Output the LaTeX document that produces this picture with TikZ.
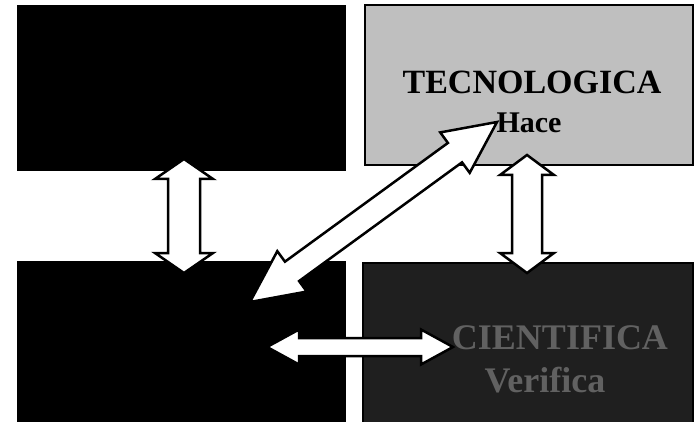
\documentclass[tikz,border=0pt]{standalone}
\usepackage{fontspec}
\setmainfont{Liberation Serif}
\usetikzlibrary{calc}
\newcommand\blockarrow[5]{%
  \coordinate (#1-h) at ($(#1)!#3!(#2)$);
  \coordinate (#2-h) at ($(#2)!#3!(#1)$);
  \draw[arrowbody] (#1) -- ($(#1-h)!#4!90:(#2)$) -- ($(#1-h)!#5!90:(#2)$)
    -- ($(#2-h)!#5!-90:(#1)$) -- ($(#2-h)!#4!-90:(#1)$) -- (#2)
    -- ($(#2-h)!#4!90:(#1)$) -- ($(#2-h)!#5!90:(#1)$)
    -- ($(#1-h)!#5!-90:(#2)$) -- ($(#1-h)!#4!-90:(#2)$) -- cycle;
}
\begin{document}
\begin{tikzpicture}[x=1pt,y=-1pt,
  box/.style={draw=black, line width=1.5pt, inner sep=0pt, anchor=center},
  arrowbody/.style={draw=black, fill=white, line width=2.5pt, line join=miter},
  lbl/.style={inner sep=0pt, anchor=center}]
\useasboundingbox[fill=white] (0,0) rectangle (698,422);
% boxes
\node[box, fill=black, minimum width=327pt, minimum height=164pt] (tl) at (181.5,88) {};
\node[box, fill=black, minimum width=327pt, minimum height=162pt] (bl) at (181.5,343) {};
\node[box, fill=black!25, minimum width=328pt, minimum height=160pt] (tr) at (529,85) {};
\node[box, fill=black!88, minimum width=330pt, minimum height=161pt] (br) at (528,343.5) {};
% bottom-right texts
\node[lbl, text=black!62, font=\bfseries\fontsize{36}{36}\selectfont] (cie) at (560,338) {CIENTIFICA};
\node[lbl, text=black!62, font=\bfseries\fontsize{36}{36}\selectfont] (ver) at (545,380) {Verifica};
% arrow end points
\coordinate (la) at (184,159);
\coordinate (lb) at (184,273);
\coordinate (ra) at (527,155);
\coordinate (rb) at (527,273);
\coordinate (da) at (250,302);
\coordinate (db) at (497,122);
\coordinate (ha) at (267,347);
\coordinate (hb) at (453,347);
\blockarrow{la}{lb}{20pt}{29pt}{16pt}
\blockarrow{ra}{rb}{20pt}{27pt}{15pt}
\blockarrow{da}{db}{52pt}{25pt}{12pt}
\blockarrow{ha}{hb}{32pt}{17.5pt}{9pt}
% top-right texts
\node[lbl, font=\bfseries\fontsize{34}{34}\selectfont] (tec) at (532,82) {TECNOLOGICA};
\node[lbl, font=\bfseries\fontsize{30}{30}\selectfont] (hace) at (529,123) {Hace};
\end{tikzpicture}
\end{document}
